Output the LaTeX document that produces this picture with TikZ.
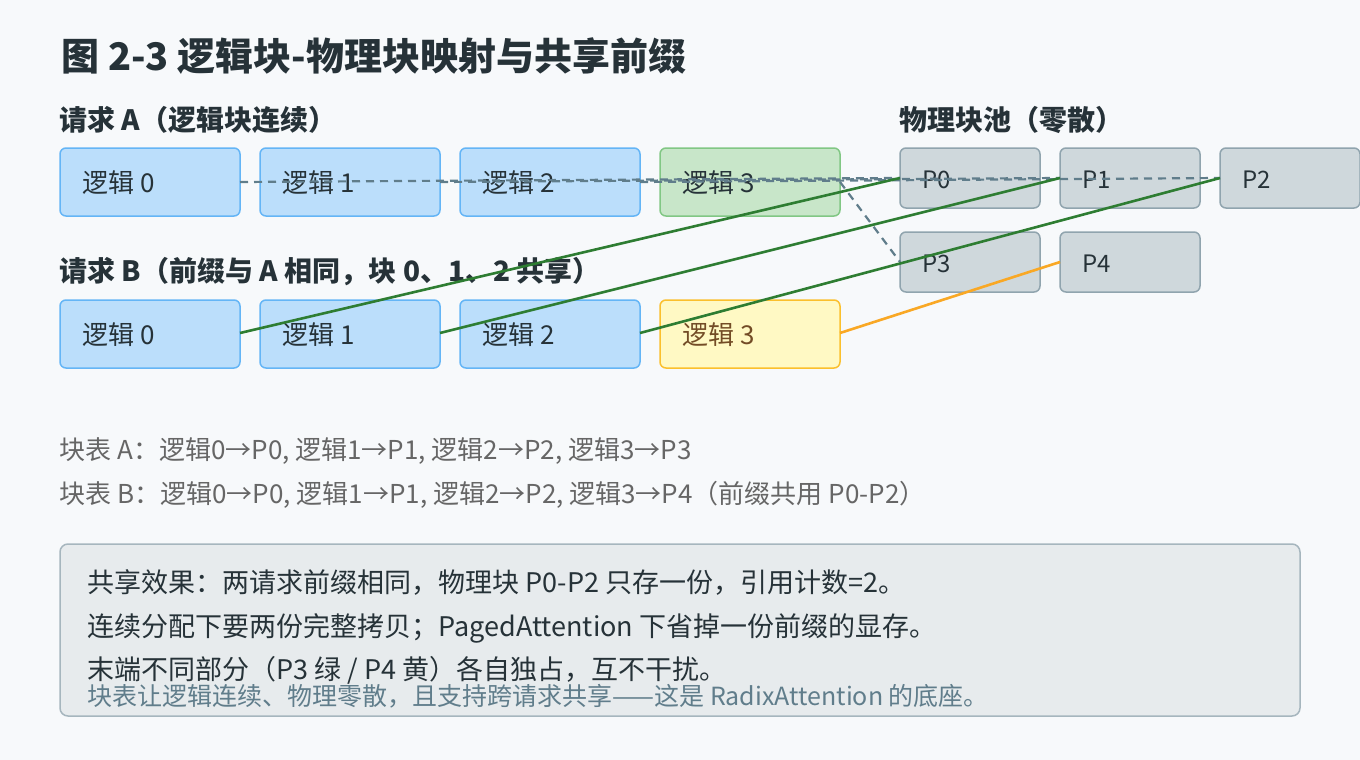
\documentclass[tikz,border=0pt]{standalone}
\usepackage{fontspec}
\setmainfont{Noto Sans CJK SC}
\begin{document}
\begin{tikzpicture}[x=1pt,y=-1pt,
 box/.style={draw,rounded corners=6pt,line width=1.5pt},
 lbl/.style={anchor=west,font=\fontsize{26}{30}\selectfont,text=black!80},
 dashln/.style={line width=2.2pt,dash pattern=on 8pt off 6pt},
 grn/.style={line width=2.6pt},
 org/.style={line width=2.6pt}]
\definecolor{bf}{HTML}{BBDEFB}\definecolor{bs}{HTML}{64B5F6}
\definecolor{gf}{HTML}{C8E6C9}\definecolor{gs}{HTML}{81C784}
\definecolor{yf}{HTML}{FFF9C4}\definecolor{ys}{HTML}{FBC02D}
\definecolor{pf}{HTML}{CFD8DC}\definecolor{ps}{HTML}{90A4AE}
\definecolor{tx}{HTML}{263238}\definecolor{bg}{HTML}{F7F9FB}
\definecolor{dl}{HTML}{607D8B}\definecolor{gl}{HTML}{2E7D32}\definecolor{ol}{HTML}{F9A825}
\fill[bg] (0,0) rectangle (1360,760);
\useasboundingbox (0,0) rectangle (1360,760);
\node[anchor=west,font=\bfseries\fontsize{38}{44}\selectfont,text=tx] (title) at (58,56) {图 2-3 逻辑块-物理块映射与共享前缀};
\node[anchor=west,font=\bfseries\fontsize{28}{32}\selectfont,text=tx] (ha) at (56,120) {请求 A（逻辑块连续）};
\node[anchor=west,font=\bfseries\fontsize{28}{32}\selectfont,text=tx] (hp) at (896,120) {物理块池（零散）};
\node[anchor=west,font=\bfseries\fontsize{28}{32}\selectfont,text=tx] (hb) at (56,272) {请求 B（前缀与 A 相同，块 0、1、2 共享）};
\foreach \i/\x/\f/\s in {0/60/bf/bs,1/260/bf/bs,2/460/bf/bs,3/660/gf/gs}{
  \draw[box,fill=\f,draw=\s] (\x,148) rectangle ++(180,68);
  \node[lbl,text=tx] (a\i) at (\x+19,183) {逻辑 \i};
  \coordinate (ar\i) at (\x+180,182);}
\foreach \i/\x/\f/\s in {0/60/bf/bs,1/260/bf/bs,2/460/bf/bs,3/660/yf/ys}{
  \draw[box,fill=\f,draw=\s] (\x,300) rectangle ++(180,68);
  \coordinate (br\i) at (\x+180,333);}
\foreach \i/\x in {0/60,1/260,2/460}{\node[lbl,text=tx] (b\i) at (\x+19,335) {逻辑 \i};}
\node[lbl,text=brown!60!black] (b3) at (679,335) {逻辑 3};
\foreach \i/\x/\y in {0/900/148,1/1060/148,2/1220/148,3/900/232,4/1060/232}{
  \draw[box,fill=pf,draw=ps] (\x,\y) rectangle ++(140,60);
  \node[lbl,text=tx,font=\fontsize{24}{28}\selectfont] (p\i) at (\x+19,\y+32) {P\i};
  \coordinate (pl\i) at (\x,\y+30);}
\draw[dashln,draw=dl] (ar0) -- (pl0);
\draw[dashln,draw=dl] (ar1) -- (pl1);
\draw[dashln,draw=dl] (ar2) -- (pl2);
\draw[dashln,draw=dl] (ar3) -- (pl3);
\draw[grn,draw=gl] (br0) -- (pl0);
\draw[grn,draw=gl] (br1) -- (pl1);
\draw[grn,draw=gl] (br2) -- (pl2);
\draw[org,draw=ol] (br3) -- (pl4);
\node[anchor=west,font=\fontsize{26}{30}\selectfont,text=black!60] (ta) at (56,451) {块表 A：逻辑0→P0, 逻辑1→P1, 逻辑2→P2, 逻辑3→P3};
\node[anchor=west,font=\fontsize{26}{30}\selectfont,text=black!60] (tb) at (56,495) {块表 B：逻辑0→P0, 逻辑1→P1, 逻辑2→P2, 逻辑3→P4（前缀共用 P0-P2）};
\draw[rounded corners=8pt,fill=pf!50!white,draw=ps!80,line width=1.5pt] (60,544) rectangle (1300,716);
\node[anchor=west,font=\fontsize{27}{31}\selectfont,text=tx] (n1) at (84,583) {共享效果：两请求前缀相同，物理块 P0-P2 只存一份，引用计数=2。};
\node[anchor=west,font=\fontsize{27}{31}\selectfont,text=tx] (n2) at (84,628) {连续分配下要两份完整拷贝；PagedAttention 下省掉一份前缀的显存。};
\node[anchor=west,font=\fontsize{27}{31}\selectfont,text=tx] (n3) at (84,670) {末端不同部分（P3 绿 / P4 黄）各自独占，互不干扰。};
\node[anchor=west,font=\fontsize{25}{29}\selectfont,text=dl] (n4) at (84,696) {块表让逻辑连续、物理零散，且支持跨请求共享——这是 RadixAttention 的底座。};
\end{tikzpicture}
\end{document}
